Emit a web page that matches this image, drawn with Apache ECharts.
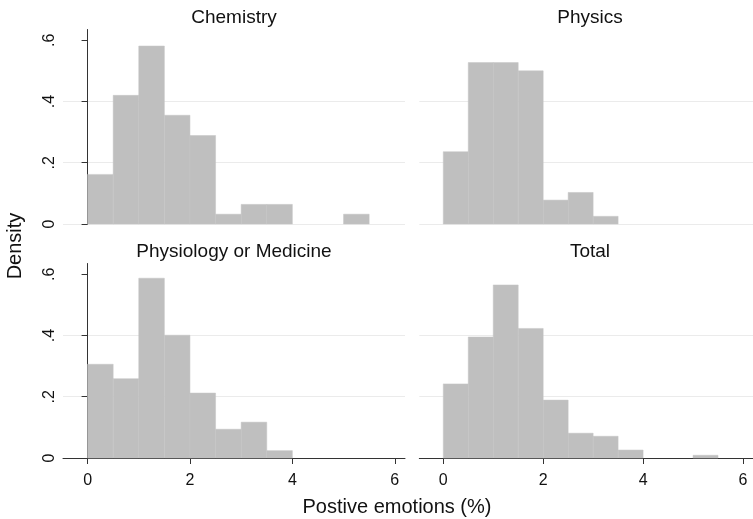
<!DOCTYPE html>
<html>
<head>
<meta charset="utf-8">
<script src="https://cdn.jsdelivr.net/npm/echarts@6/dist/echarts.min.js"></script>
<style>
  html, body { margin: 0; padding: 0; background: #fff; }
  #main { width: 753px; height: 519px; }
</style>
</head>
<body>
<div id="main"></div>
<script>
// histogram bins (width 0.5), densities
var binWidth = 0.5;
var binStarts = [0, 0.5, 1, 1.5, 2, 2.5, 3, 3.5, 4, 4.5, 5];
var chemistry = [0.162, 0.420, 0.581, 0.355, 0.289, 0.032, 0.064, 0.064, 0, 0, 0.032];
var physics = [0.236, 0.527, 0.527, 0.500, 0.078, 0.103, 0.025];
var physiology = [0.306, 0.259, 0.587, 0.401, 0.212, 0.094, 0.117, 0.024];
var total = [0.242, 0.395, 0.565, 0.423, 0.189, 0.081, 0.071, 0.026, 0, 0, 0.009];
var panelNames = ['Chemistry', 'Physics', 'Physiology or Medicine', 'Total'];
var xTicks = [0, 2, 4, 6];
var yTicks = [0, 0.2, 0.4, 0.6];

var font = 'Liberation Sans, Arial, sans-serif';
var chartDom = document.getElementById('main');
var myChart = echarts.init(chartDom);

// panel layout
var grids = [
    {left: 63, top: 29.5, width: 342, height: 194.5},
    {left: 419.3, top: 29.5, width: 342, height: 194.5},
    {left: 63, top: 263.5, width: 342, height: 194.5},
    {left: 419.3, top: 263.5, width: 342, height: 194.5}
];

function bins(values) {
    var out = [];
    values.forEach(function (v, i) {
        if (v > 0) out.push([binStarts[i], binStarts[i] + binWidth, v]);
    });
    return out;
}

function renderBar(params, api) {
    var p0 = api.coord([api.value(0), api.value(2)]);
    var p1 = api.coord([api.value(1), 0]);
    return {
        type: 'rect',
        shape: {x: p0[0], y: p0[1], width: p1[0] - p0[0], height: p1[1] - p0[1]},
        style: {fill: '#bfbfbf', stroke: '#c4c4c4', lineWidth: 0.5}
    };
}

var xAxes = [], yAxes = [], series = [], titles = [];
var allData = [chemistry, physics, physiology, total];
for (var i = 0; i < 4; i++) {
    var bottom = i >= 2, left = i % 2 === 0;
    xAxes.push({
        gridIndex: i, type: 'value', min: -0.48, max: 6.2, interval: 2,
        axisLine: {show: bottom, onZero: false, lineStyle: {color: '#333', width: 1}},
        axisTick: {show: bottom, length: 6, lineStyle: {color: '#333'}, customValues: xTicks},
        axisLabel: {show: bottom, margin: 15, fontSize: 16, color: '#111', fontFamily: font,
            customValues: xTicks},
        splitLine: {show: false}
    });
    yAxes.push({
        gridIndex: i, type: 'value', min: 0, max: 0.635, interval: 0.2,
        axisLine: {show: left, lineStyle: {color: '#333', width: 1}},
        axisTick: {show: left, length: 6, lineStyle: {color: '#333'}, customValues: yTicks},
        axisLabel: {
            show: left, rotate: 90, margin: 5, fontSize: 16, color: '#111', fontFamily: font,
            customValues: yTicks,
            formatter: function (v) { return v === 0 ? '0' : String(v).replace('0.', '.'); }
        },
        splitLine: {show: true, showMaxLine: false, lineStyle: {color: '#ebebeb', width: 1}}
    });
    series.push({
        type: 'custom', xAxisIndex: i, yAxisIndex: i,
        data: bins(allData[i]),
        encode: {x: [0, 1], y: 2},
        renderItem: renderBar,
        silent: true
    });
    titles.push({
        text: panelNames[i],
        left: left ? 234 : 590,
        top: bottom ? 242 : 8,
        padding: 0,
        textAlign: 'center',
        textStyle: {fontSize: 19, fontWeight: 'normal', color: '#111', fontFamily: font}
    });
}

var option = {
    backgroundColor: '#fff',
    animation: false,
    title: titles,
    grid: grids,
    xAxis: xAxes,
    yAxis: yAxes,
    series: series,
    graphic: [
        {type: 'text', x: 15, y: 246, rotation: Math.PI / 2,
            style: {text: 'Density', font: '20px ' + font, fill: '#111', align: 'center', verticalAlign: 'middle'}},
        {type: 'text', x: 397, y: 507,
            style: {text: 'Postive emotions (%)', font: '20px ' + font, fill: '#111', align: 'center', verticalAlign: 'middle'}}
    ]
};

option && myChart.setOption(option);
</script>
</body>
</html>
